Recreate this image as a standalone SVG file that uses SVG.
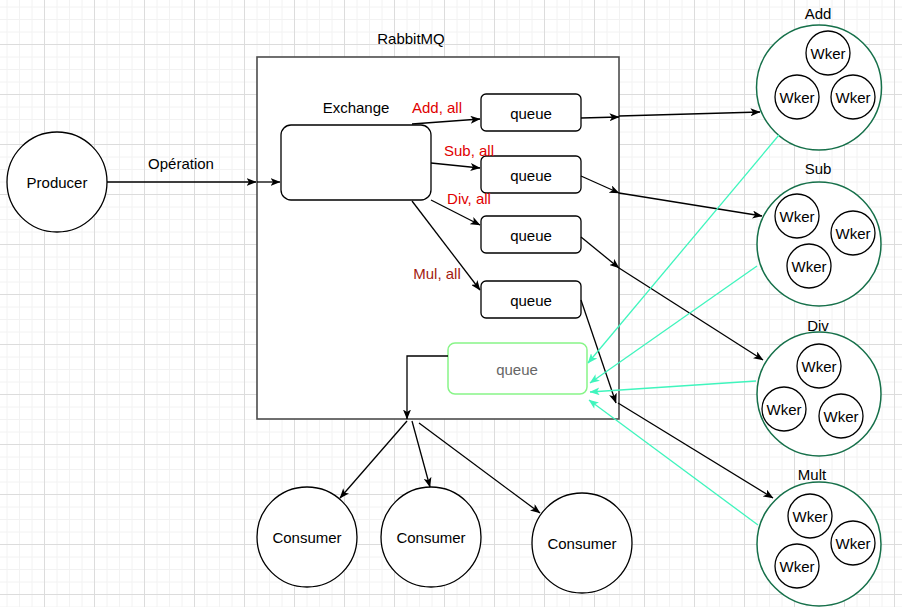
<svg xmlns="http://www.w3.org/2000/svg" width="902" height="607" viewBox="0 0 902 607">
<defs>
<pattern id="grid" patternUnits="userSpaceOnUse" x="-6" y="-6" width="50" height="50">
<path d="M0 13H50M0 25.5H50M0 38H50M13 0V50M25.5 0V50M38 0V50" stroke="#f2f2f2" stroke-width="1" fill="none"/>
<path d="M0 0.5H50M0.5 0V50" stroke="#dcdcdc" stroke-width="1" fill="none"/>
</pattern>
<marker id="ah" viewBox="0 0 10 8" refX="9.5" refY="4" markerWidth="10" markerHeight="8" markerUnits="userSpaceOnUse" orient="auto">
<path d="M0 0L10 4L0 8L2.5 4Z" fill="#000"/>
</marker>
<marker id="ag" viewBox="0 0 10 8" refX="9.5" refY="4" markerWidth="10" markerHeight="8" markerUnits="userSpaceOnUse" orient="auto">
<path d="M0 0L10 4L0 8L2.5 4Z" fill="#3ff5bd"/>
</marker>
</defs>
<style>
text{font-family:"Liberation Sans",Arial,sans-serif;font-size:15px;fill:#000;text-anchor:middle;dominant-baseline:central}
.c{fill:#fff;stroke:#000;stroke-width:1.3}
.g{fill:#fff;stroke:#16704a;stroke-width:1.5}
.q{fill:#fff;stroke:#000;stroke-width:1.3}
.e{fill:none;stroke:#000;stroke-width:1.3;marker-end:url(#ah)}
.gr{fill:none;stroke:#3ff5bd;stroke-width:1.3;marker-end:url(#ag)}
text.red{fill:#e00000}
text.dred{fill:#a31a10}
text.grey{fill:#666}
</style>
<rect width="902" height="607" fill="#fff"/>
<rect width="902" height="607" fill="url(#grid)"/>

<g id="rabbitmq">
<rect x="257" y="57" width="362" height="362" fill="#fff" stroke="#4d4d4d" stroke-width="1.6"/>
<text x="411" y="38">RabbitMQ</text>
</g>
<g id="producer"><circle class="c" cx="57" cy="182" r="50"/><text x="57" y="182">Producer</text></g>
<g id="exchange"><rect class="q" x="281" y="125" width="150" height="75" rx="10"/><text x="356" y="107">Exchange</text></g>
<g id="queue1"><rect class="q" x="481" y="94" width="100" height="37" rx="5"/><text x="531" y="113">queue</text></g>
<g id="queue2"><rect class="q" x="481" y="156" width="100" height="37" rx="5"/><text x="531" y="175">queue</text></g>
<g id="queue3"><rect class="q" x="481" y="216" width="100" height="37" rx="5"/><text x="531" y="235">queue</text></g>
<g id="queue4"><rect class="q" x="481" y="281" width="100" height="37" rx="5"/><text x="531" y="300">queue</text></g>
<g id="queue5"><rect x="448" y="343" width="139" height="51" rx="7" fill="#fff" stroke="#88f588" stroke-width="1.5"/><text class="grey" x="517" y="369">queue</text></g>

<g id="add">
<text x="818" y="13">Add</text>
<circle class="g" cx="819" cy="87.5" r="62.5"/>
<circle class="c" cx="828" cy="53" r="22"/><text x="828" y="53">Wker</text>
<circle class="c" cx="797" cy="97" r="22"/><text x="797" y="97">Wker</text>
<circle class="c" cx="853" cy="97" r="22"/><text x="853" y="97">Wker</text>
</g>
<g id="sub">
<text x="818" y="168">Sub</text>
<circle class="g" cx="819" cy="244" r="62"/>
<circle class="c" cx="797" cy="216" r="22"/><text x="797" y="216">Wker</text>
<circle class="c" cx="853" cy="233" r="22"/><text x="853" y="233">Wker</text>
<circle class="c" cx="809" cy="266" r="22"/><text x="809" y="266">Wker</text>
</g>
<g id="div">
<text x="818" y="325">Div</text>
<circle class="g" cx="819" cy="394" r="62"/>
<circle class="c" cx="819" cy="366" r="22"/><text x="819" y="366">Wker</text>
<circle class="c" cx="784" cy="409" r="22"/><text x="784" y="409">Wker</text>
<circle class="c" cx="841" cy="416" r="22"/><text x="841" y="416">Wker</text>
</g>
<g id="mult">
<text x="812" y="474">Mult</text>
<circle class="g" cx="819" cy="544" r="62"/>
<circle class="c" cx="810" cy="516" r="22"/><text x="810" y="516">Wker</text>
<circle class="c" cx="853" cy="543" r="22"/><text x="853" y="543">Wker</text>
<circle class="c" cx="797" cy="566" r="22"/><text x="797" y="566">Wker</text>
</g>
<g id="consumer1"><circle class="c" cx="307" cy="537" r="50"/><text x="307" y="537">Consumer</text></g>
<g id="consumer2"><circle class="c" cx="431" cy="537" r="50"/><text x="431" y="537">Consumer</text></g>
<g id="consumer3"><circle class="c" cx="582" cy="543" r="50"/><text x="582" y="543">Consumer</text></g>

<g id="connectors">
<path class="e" d="M107 182H256"/>
<text x="181" y="163">Opération</text>
<path class="e" d="M257 182H280"/>
<path class="e" d="M412 124L480 119"/>
<text class="red" x="437" y="107">Add, all</text>
<path class="e" d="M431 163L480 168"/>
<text class="red" x="469" y="150">Sub, all</text>
<path class="e" d="M431 200L480 225"/>
<text class="red" x="469" y="198">Div, all</text>
<path class="e" d="M412 201L480 290"/>
<text class="dred" x="437" y="273">Mul, all</text>

<path class="e" d="M581 118L619 117"/>
<path class="e" d="M619 116L760 112"/>
<path class="e" d="M581 176L619 193"/>
<path class="e" d="M619 193L762 216"/>
<path class="e" d="M581 237L619 268"/>
<path class="e" d="M619 268L763 360"/>
<path class="e" d="M581 300L616 403"/>
<path class="e" d="M618 403L773 498"/>

<path class="gr" d="M779 135L588 363"/>
<path class="gr" d="M757 266L590 383"/>
<path class="gr" d="M756 381L590 392"/>
<path class="gr" d="M758 525L589 400"/>

<path class="e" d="M448 356H407V419"/>
<path class="e" d="M407 421L340 498"/>
<path class="e" d="M412 421L430 487"/>
<path class="e" d="M419 423L540 513"/>
</g>
</svg>
